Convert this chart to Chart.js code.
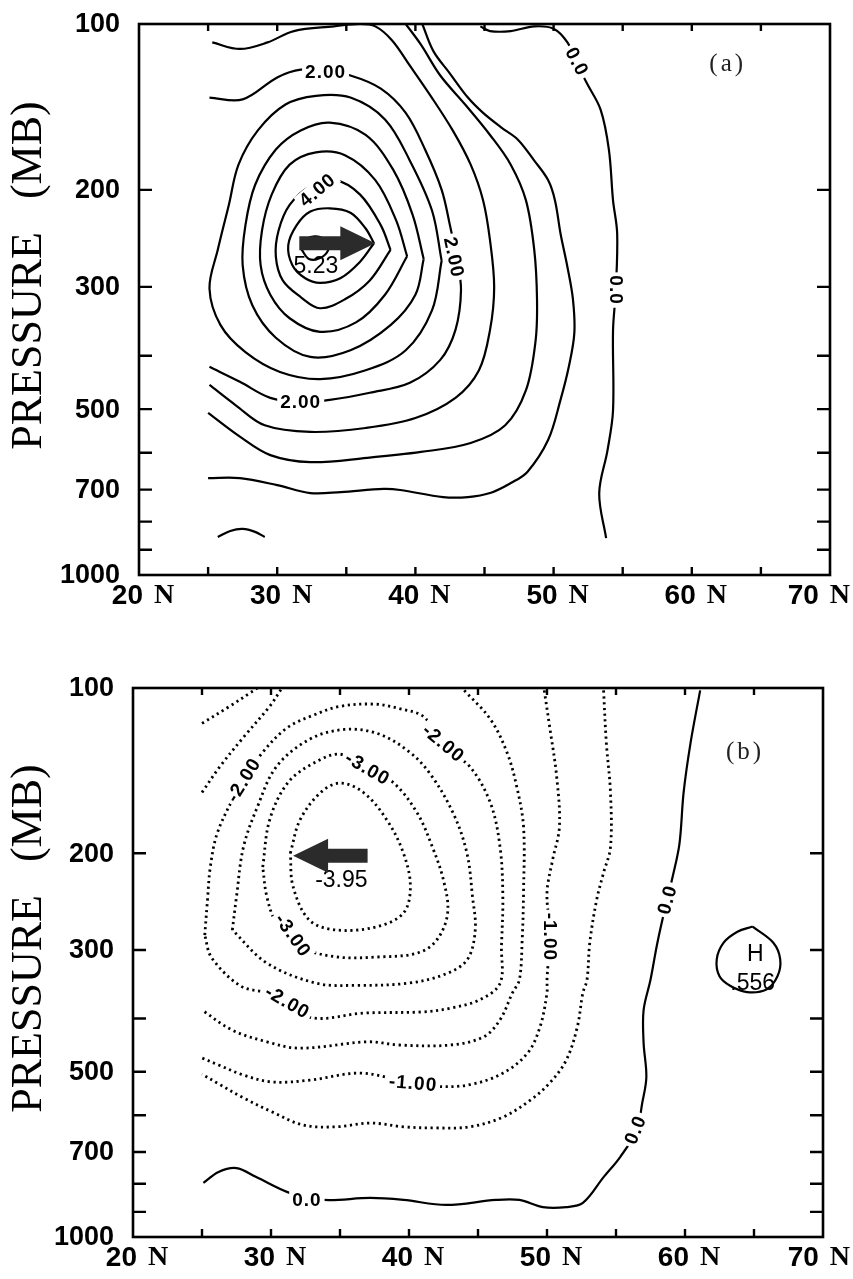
<!DOCTYPE html>
<html>
<head>
<meta charset="utf-8">
<script src="https://cdn.jsdelivr.net/npm/chart.js@4.4.1/dist/chart.umd.min.js"></script>
<style>
  html, body { margin: 0; padding: 0; background: #fff; }
  #wrap { position: relative; width: 853px; height: 1279px; }
  .panel { position: absolute; left: 0; width: 853px; }
  #pa { top: 0; height: 640px; }
  #pb { top: 640px; height: 639px; }
</style>
</head>
<body>
<div id="wrap">
  <div class="panel" id="pa"><canvas id="chartA"></canvas></div>
  <div class="panel" id="pb"><canvas id="chartB"></canvas></div>
</div>
<script>
// --- axes ---
const yTickLabels = [100, 200, 300, 500, 700, 1000];
const yTickMarks = [200, 300, 400, 500, 600, 700, 800, 900];
const xTickLabels = [20, 30, 40, 50, 60, 70];
const xTickMarks = [25, 30, 35, 40, 45, 50, 55, 60, 65];

// --- panel (a): contour lines, [lat, pressure mb] ---
const a_c50 = [[31.7,255],[32.1,246],[32.8,243],[33.6,248],[33.7,257],[33.1,266],[32.3,267],[31.7,255]];
const a_c45 = [[37.0,250],[36.4,235],[35.3,220],[33.8,216],[32.4,219],[31.4,232],[30.8,252],[31.1,274],[32.0,289],[33.1,295],[34.6,289],[36.0,270],[37.0,250]];
const a_c40 = [[38.2,257],[37.5,232],[36.0,204],[34.2,192],[32.4,197],[30.9,213],[30.1,237],[29.9,264],[30.4,292],[31.7,313],[33.1,328],[34.9,316],[36.7,292],[38.2,257]];
const a_c35 = [[39.4,264],[38.6,227],[37.1,192],[34.9,173],[32.8,171],[30.9,180],[29.6,204],[28.9,237],[28.8,274],[29.5,310],[30.9,342],[33.1,362],[35.7,348],[37.8,310],[39.4,264]];
const a_c30 = [[40.6,267],[39.8,222],[38.4,184],[36.4,159],[33.8,151],[31.7,156],[29.9,169],[28.4,196],[27.7,232],[27.5,274],[28.2,324],[29.9,371],[32.4,402],[35.3,391],[38.2,352],[40.0,310],[40.6,267]];
const a_c25 = [[41.9,269],[41.2,218],[39.6,177],[37.8,149],[35.3,136],[32.8,135],[30.6,140],[28.6,156],[27.2,180],[26.5,213],[25.7,257],[25.1,302],[25.9,352],[27.7,394],[30.2,428],[33.1,441],[36.4,425],[39.3,391],[41.2,331],[41.9,269]];
const a_c20 = [[25.1,136],[27.5,137],[30.0,125],[31.7,121],[33.5,122],[35.3,124],[37.5,131],[39.3,145],[40.7,169],[41.9,200],[42.5,232],[43.0,267],[43.3,304],[42.9,359],[41.8,407],[39.6,448],[36.7,467],[33.8,481],[31.7,485],[29.5,477],[27.3,446],[25.1,419]];
const a_c15 = [[25.3,108],[27.3,111],[29.3,108],[31.2,103],[34.1,101],[36.0,100],[37.1,101],[38.3,107],[39.6,119],[41.1,135],[42.7,156],[44.0,180],[44.9,209],[45.4,247],[45.7,300],[45.4,359],[44.6,425],[42.9,477],[40.0,519],[36.4,541],[32.4,550],[29.1,535],[27.0,492],[25.1,452]];
const a_c10 = [[39.3,100],[40.4,109],[41.8,124],[43.6,140],[45.4,159],[46.9,180],[48.0,209],[48.6,257],[48.8,316],[48.7,375],[48.0,462],[46.5,535],[44.0,576],[40.4,598],[36.5,613],[32.4,624],[29.5,606],[27.3,561],[25.0,508]];
const a_c05 = [[40.5,100],[41.3,112],[42.5,123],[43.8,136],[44.9,145],[46.2,154],[47.4,162],[48.6,177],[49.6,192],[50.1,209],[50.5,240],[51.0,276],[51.4,316],[51.5,364],[51.1,419],[50.5,481],[49.6,569],[48.1,650],[46.9,681],[45.4,710],[43.8,722],[42.0,722],[38.9,701],[37.7,698],[34.6,707],[32.4,710],[30.0,687],[27.3,667],[25.0,667]];
const a_low = [[25.7,853],[26.6,832],[27.5,825],[28.4,835],[29.1,853]];
const a_c00 = [[44.7,101],[45.4,103],[46.9,103],[48.6,101],[50.0,102],[51.0,108],[51.7,118],[52.4,128],[53.4,143],[54.0,169],[54.3,209],[54.6,240],[54.5,304],[54.3,360],[54.3,503],[53.9,594],[53.3,711],[53.8,857]];

// --- panel (b) ---
const b_c35 = [[31.4,200],[32.1,174],[33.6,155],[35.0,149],[36.7,155],[38.4,174],[39.6,200],[40.1,230],[39.6,257],[37.7,272],[34.8,276],[32.8,265],[31.6,230],[31.4,200]];
const b_c30 = [[29.4,212],[29.9,174],[31.2,149],[33.1,137],[35.0,132],[37.0,140],[38.9,149],[40.6,169],[41.7,195],[42.5,224],[42.8,257],[42.0,288],[40.6,304],[37.7,309],[34.8,309],[32.1,296],[30.4,268],[29.7,240],[29.4,212]];
const b_c25 = [[27.2,276],[27.5,240],[28.0,195],[29.0,165],[30.4,139],[32.8,124],[35.3,119],[37.7,121],[39.9,130],[41.5,143],[43.2,169],[44.2,200],[44.6,240],[44.8,276],[44.2,313],[42.5,333],[39.9,345],[36.2,348],[33.3,345],[29.7,317],[27.2,276]];
const b_c20 = [[25.2,282],[25.4,243],[25.6,212],[26.1,184],[27.3,158],[28.0,147],[29.5,130],[31.2,118],[33.1,112],[35.0,108],[37.5,107],[39.3,109],[41.1,113],[42.5,128],[44.4,139],[45.9,162],[46.6,195],[46.8,240],[46.7,296],[46.6,345],[45.1,370],[43.0,383],[41.0,389],[36.7,391],[33.0,399],[31.2,373],[29.7,359],[27.8,349],[25.7,310],[25.2,282]];
const b_c15a = [[25.0,155],[26.3,139],[28.0,123],[29.9,108],[30.8,100]];
const b_c15b = [[44.0,101],[45.9,114],[47.1,131],[47.8,151],[48.3,179],[48.3,236],[48.2,288],[48.0,340],[47.5,359],[46.6,402],[45.4,432],[43.0,447],[39.3,447],[37.0,441],[32.1,453],[29.7,441],[27.2,420],[25.0,386]];
const b_c10a = [[25.0,116],[27.0,108],[28.5,102],[29.0,100]];
const b_c10b = [[49.8,101],[50.2,118],[50.7,145],[50.9,179],[50.4,206],[50.0,236],[50.2,280],[50.0,340],[50.0,359],[49.5,414],[48.6,462],[46.8,503],[44.4,528],[42.0,532],[40.1,524],[36.5,503],[32.8,518],[30.1,522],[28.0,507],[26.2,486],[25.0,472]];
const b_c05 = [[54.1,101],[54.3,126],[54.6,155],[54.6,195],[54.1,217],[53.6,243],[53.1,291],[52.9,340],[52.6,359],[52.2,414],[51.4,476],[50.2,524],[48.8,563],[46.8,605],[44.4,630],[42.0,633],[39.6,630],[37.2,620],[34.7,630],[32.3,625],[30.1,592],[28.0,558],[26.2,526],[25.0,505]];
const b_c00 = [[61.1,101],[60.4,126],[59.9,155],[59.6,192],[59.1,221],[58.7,243],[58.0,291],[57.5,340],[57.0,386],[57.0,443],[57.2,511],[56.9,570],[56.5,639],[55.3,715],[54.1,778],[52.6,867],[51.4,882],[49.7,882],[48.0,856],[46.3,856],[42.7,874],[39.6,856],[37.2,849],[33.8,856],[31.4,832],[28.9,777],[27.5,749],[26.2,761],[25.1,797]];
const b_high = [[64.9,272],[66.4,291],[66.9,312],[66.7,335],[65.9,354],[64.5,358],[63.3,349],[62.5,335],[62.3,312],[62.8,291],[63.8,278],[64.9,272]];

// --- contour labels: text, lat, p, rotation ---
const aLabels = [
  ["2.00", 33.5, 122, 0], ["4.00", 32.9, 200, -40], ["2.00", 42.8, 265, 78],
  ["2.00", 31.7, 485, 0], ["0.0", 51.7, 117, 62], ["0.0", 54.5, 304, 90],
];
const bLabels = [
  ["-2.00", 28.0, 147, -58], ["-2.00", 42.5, 126, 40], ["-3.00", 37.0, 140, 30],
  ["-3.00", 31.6, 282, 55], ["-2.00", 31.2, 373, 30], ["-1.00", 40.3, 524, 5],
  ["-1.00", 50.2, 284, 90], ["0.0", 58.7, 243, -75], ["0.0", 56.4, 638, -68],
  ["0.0", 32.6, 856, 0],
];
const aTexts = [["5.23", 32.8, 276]];
const bTexts = [["-3.95", 35.1, 224], ["H", 65.1, 306], [".556", 64.9, 345]];

// --- arrows: tail lat, tip lat, p ---
const aArrow = [31.6, 37.1, 250];
const bArrow = [37.0, 31.6, 202];

function contourSet(pts, dotted) {
  return {
    data: pts.map(([lat, p]) => ({ x: lat, y: p })),
    borderColor: "#000",
    borderWidth: dotted ? 2.8 : 2.2,
    borderDash: dotted ? [2.2, 3.6] : [],
    pointRadius: 0,
    tension: 0.35,
    fill: false,
  };
}

function drawBoxLabel(ctx, x, y, text, rot) {
  ctx.save();
  ctx.translate(x, y);
  ctx.rotate((rot * Math.PI) / 180);
  ctx.font = 'bold 19px "Liberation Sans"';
  ctx.letterSpacing = "1px";
  const w = ctx.measureText(text).width;
  ctx.fillStyle = "#fff";
  ctx.fillRect(-w / 2 - 3, -9, w + 6, 18);
  ctx.fillStyle = "#000";
  ctx.textAlign = "center";
  ctx.textBaseline = "middle";
  ctx.fillText(text, 0, 1);
  ctx.restore();
}

function drawArrow(ctx, x0, x1, y) {
  const dir = Math.sign(x1 - x0);
  const xb = x1 - dir * 35;
  ctx.save();
  ctx.fillStyle = "#2b2b2b";
  ctx.beginPath();
  ctx.moveTo(x0, y - 7);
  ctx.lineTo(xb, y - 7);
  ctx.lineTo(xb, y - 17);
  ctx.lineTo(x1, y);
  ctx.lineTo(xb, y + 17);
  ctx.lineTo(xb, y + 7);
  ctx.lineTo(x0, y + 7);
  ctx.closePath();
  ctx.fill();
  ctx.restore();
}

function makeDecor(cfg) {
  return {
    id: "decor",
    afterDatasetsDraw(chart) {
      const { ctx, scales } = chart;
      const x = scales.x, y = scales.y;
      cfg.labels.forEach(([t, lat, p, r]) =>
        drawBoxLabel(ctx, x.getPixelForValue(lat), y.getPixelForValue(p), t, r));
      ctx.save();
      ctx.fillStyle = "#000";
      ctx.textAlign = "center";
      ctx.textBaseline = "middle";
      ctx.font = '23px "Liberation Sans"';
      cfg.texts.forEach(([t, lat, p]) =>
        ctx.fillText(t, x.getPixelForValue(lat), y.getPixelForValue(p)));
      ctx.restore();
      const [a0, a1, ap] = cfg.arrow;
      drawArrow(ctx, x.getPixelForValue(a0), x.getPixelForValue(a1), y.getPixelForValue(ap));
    },
    afterDraw(chart) {
      const { ctx, chartArea: ca, scales } = chart;
      const x = scales.x, y = scales.y;
      ctx.save();
      ctx.strokeStyle = "#000";
      ctx.lineWidth = 2.6;
      ctx.strokeRect(ca.left, ca.top, ca.right - ca.left, ca.bottom - ca.top);
      ctx.lineWidth = 2.4;
      ctx.beginPath();
      yTickMarks.forEach((v) => {
        const py = y.getPixelForValue(v);
        ctx.moveTo(ca.left, py); ctx.lineTo(ca.left + 13, py);
        ctx.moveTo(ca.right, py); ctx.lineTo(ca.right - 13, py);
      });
      xTickMarks.forEach((v) => {
        const px = x.getPixelForValue(v);
        ctx.moveTo(px, ca.bottom); ctx.lineTo(px, ca.bottom - 8);
        ctx.moveTo(px, ca.top); ctx.lineTo(px, ca.top + 7);
      });
      ctx.stroke();

      // tick labels
      ctx.fillStyle = "#000";
      ctx.font = 'bold 27px "Liberation Sans"';
      ctx.textAlign = "right";
      ctx.textBaseline = "middle";
      yTickLabels.forEach((v) => ctx.fillText(String(v), ca.left - 19, y.getPixelForValue(v) + 1));
      xTickLabels.forEach((v) => {
        const num = String(v);
        ctx.font = 'bold 28px "Liberation Sans"';
        const wn = ctx.measureText(num).width;
        ctx.font = 'bold 28px "Liberation Serif"';
        const wN = ctx.measureText("N").width;
        const tot = wn + 11 + wN;
        let left = x.getPixelForValue(v) - tot / 2 + 4;
        if (left + tot > 850) left = 850 - tot;
        const py = ca.bottom + 21;
        ctx.textAlign = "left";
        ctx.font = 'bold 28px "Liberation Sans"';
        ctx.fillText(num, left, py);
        ctx.font = 'bold 28px "Liberation Serif"';
        ctx.fillText("N", left + wn + 11, py);
      });

      // axis title
      ctx.save();
      ctx.translate(29, (ca.top + ca.bottom) / 2 - 24);
      ctx.rotate(-Math.PI / 2);
      ctx.font = '44px "Liberation Serif"';
      ctx.textAlign = "center";
      ctx.textBaseline = "middle";
      ctx.fillText("PRESSURE   (MB)", 0, 0);
      ctx.restore();

      // panel tag
      ctx.font = '25px "Liberation Serif"';
      ctx.letterSpacing = "3px";
      ctx.textAlign = "center";
      ctx.fillStyle = "#222";
      ctx.fillText(cfg.tag, ca.left + cfg.tagPos[0] * (ca.right - ca.left),
        ca.top + cfg.tagPos[1] * (ca.bottom - ca.top));
      ctx.restore();
    },
  };
}

function buildChart(canvasId, sets, pad, cfg) {
  return new Chart(document.getElementById(canvasId), {
    type: "line",
    data: { datasets: sets.map(([pts, dotted]) => contourSet(pts, dotted)) },
    options: {
      responsive: true,
      maintainAspectRatio: false,
      animation: false,
      layout: { padding: pad },
      plugins: { legend: { display: false }, tooltip: { enabled: false } },
      scales: {
        x: { type: "linear", min: 20, max: 70, display: false },
        y: { type: "logarithmic", min: 100, max: 1000, reverse: true, display: false },
      },
    },
    plugins: [makeDecor(cfg)],
  });
}

buildChart("chartA",
  [a_c50, a_c45, a_c40, a_c35, a_c30, a_c25, a_c20, a_c15, a_c10, a_c05, a_low, a_c00]
    .map((p) => [p, false]),
  { left: 139, right: 23, top: 24, bottom: 65 },
  { labels: aLabels, texts: aTexts, arrow: aArrow, tag: "(a)", tagPos: [0.852, 0.074] });

buildChart("chartB",
  [[b_c35, true], [b_c30, true], [b_c25, true], [b_c20, true], [b_c15a, true], [b_c15b, true],
   [b_c10a, true], [b_c10b, true], [b_c05, true], [b_c00, false], [b_high, false]],
  { left: 133, right: 30, top: 48, bottom: 42 },
  { labels: bLabels, texts: bTexts, arrow: bArrow, tag: "(b)", tagPos: [0.887, 0.117] });
</script>
</body>
</html>
